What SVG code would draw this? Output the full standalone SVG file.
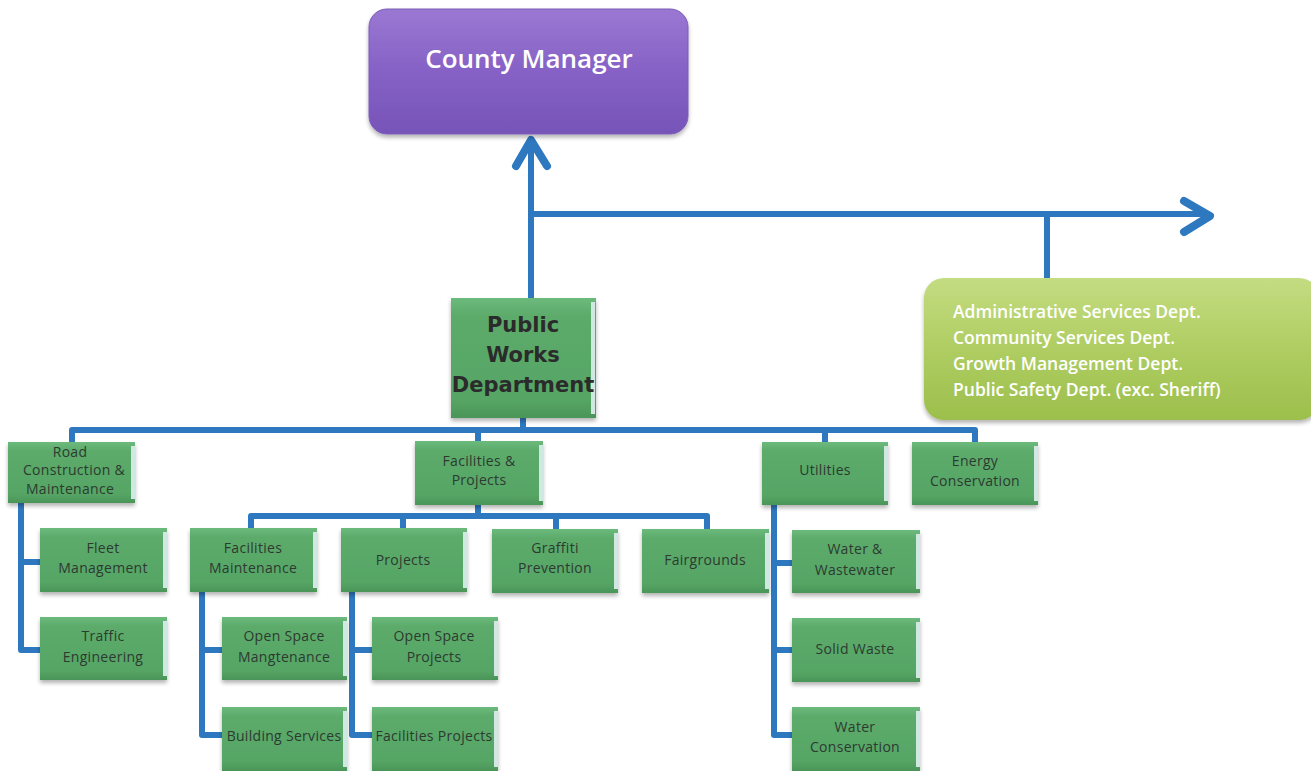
<svg xmlns="http://www.w3.org/2000/svg" width="1311" height="771" viewBox="0 0 1311 771">
  <defs>
    <linearGradient id="gPurple" x1="0" y1="0" x2="0" y2="1">
      <stop offset="0" stop-color="#9a78d2"/>
      <stop offset="0.5" stop-color="#8661c6"/>
      <stop offset="1" stop-color="#7654b8"/>
    </linearGradient>
    <linearGradient id="gLime" x1="0" y1="0" x2="0" y2="1">
      <stop offset="0" stop-color="#c4dc82"/>
      <stop offset="0.5" stop-color="#afcd62"/>
      <stop offset="1" stop-color="#9cbf4c"/>
    </linearGradient>
    <linearGradient id="gGreen" x1="0" y1="0" x2="0" y2="1">
      <stop offset="0" stop-color="#6cba7c"/>
      <stop offset="0.15" stop-color="#5cab6b"/>
      <stop offset="0.85" stop-color="#56a565"/>
      <stop offset="1" stop-color="#4a9558"/>
    </linearGradient>
    <filter id="shadow" x="-10%" y="-10%" width="120%" height="130%">
      <feGaussianBlur in="SourceAlpha" stdDeviation="2"/>
      <feOffset dx="0" dy="3" result="b"/>
      <feComponentTransfer><feFuncA type="linear" slope="0.3"/></feComponentTransfer>
      <feMerge><feMergeNode/><feMergeNode in="SourceGraphic"/></feMerge>
    </filter>
  </defs>
  <style>
    .wire { fill: none; stroke: #2e78c0; stroke-width: 6; stroke-linejoin: round; stroke-linecap: butt; }
    .head { fill: none; stroke: #2e78c0; stroke-width: 8; stroke-linejoin: round; stroke-linecap: round; }
    .box { fill: url(#gGreen); filter: url(#shadow); }
    .edge { fill: #cfe9e2; }
    .lbl { font-family: "Open Sans", "Liberation Sans", sans-serif; font-size: 14px; fill: #2d3a30; text-anchor: middle; letter-spacing: 0.3px; }
  </style>

  <rect width="1311" height="771" fill="#ffffff"/>

  <!-- links between the units -->
  <g id="connectors">
    <!-- Public Works up to the County Manager -->
    <path class="wire" d="M531 298 V142"/>
    <path class="head" d="M516 166 L531 140 L547 166"/>
    <!-- branch to the other departments -->
    <path class="wire" d="M531 214 H1207"/>
    <path class="head" d="M1184 201 L1210 216 L1184 232"/>
    <path class="wire" d="M1047 214 V279"/>
    <!-- main division bus -->
    <path class="wire" d="M523 418 V430"/>
    <path class="wire" d="M72 443 V430 H975 V443"/>
    <path class="wire" d="M478 430 V441"/>
    <path class="wire" d="M825 430 V443"/>
    <!-- road construction -->
    <path class="wire" d="M21 502 V650 H41"/>
    <path class="wire" d="M21 562 H41"/>
    <!-- facilities and projects -->
    <path class="wire" d="M478 505 V516"/>
    <path class="wire" d="M251 529 V516 H707 V529"/>
    <path class="wire" d="M403 516 V529"/>
    <path class="wire" d="M556 516 V529"/>
    <path class="wire" d="M202 592 V735 H223"/>
    <path class="wire" d="M202 650 H223"/>
    <path class="wire" d="M352 592 V735 H373"/>
    <path class="wire" d="M352 650 H373"/>
    <!-- utilities -->
    <path class="wire" d="M774 505 V735 H793"/>
    <path class="wire" d="M774 563 H793"/>
    <path class="wire" d="M774 650 H793"/>
  </g>

  <g id="county-manager">
    <rect x="369" y="9" width="319" height="125" rx="18" fill="url(#gPurple)" stroke="#7a5cb8" stroke-width="1" filter="url(#shadow)"/>
    <text x="529" y="68" font-family="'Open Sans', 'Liberation Sans', sans-serif" font-size="26" font-weight="600" fill="#ffffff" text-anchor="middle">County Manager</text>
  </g>

  <g id="other-departments">
    <rect x="924" y="278" width="395" height="142" rx="20" fill="url(#gLime)" filter="url(#shadow)"/>
    <g font-family="'Open Sans', 'Liberation Sans', sans-serif" font-size="17.5" font-weight="600" fill="#ffffff">
      <text x="953" y="318">Administrative Services Dept.</text>
      <text x="953" y="344">Community Services Dept.</text>
      <text x="953" y="370">Growth Management Dept.</text>
      <text x="953" y="396">Public Safety Dept. (exc. Sheriff)</text>
    </g>
  </g>

  <g id="public-works">
    <rect x="451" y="298" width="145" height="120" fill="url(#gGreen)" filter="url(#shadow)"/>
    <rect x="591" y="302" width="4" height="112" class="edge"/>
    <g font-family="'DejaVu Sans', Verdana, sans-serif" font-size="21" font-weight="bold" fill="#2b2b2b" text-anchor="middle">
      <text x="523" y="332">Public</text>
      <text x="523" y="362">Works</text>
      <text x="523" y="392">Department</text>
    </g>
  </g>

  <g id="road-construction">
    <rect class="box" x="8" y="442" width="127" height="61"/>
    <rect class="edge" x="131" y="446" width="4" height="53"/>
    <text class="lbl" x="70" y="457">Road</text>
    <text class="lbl" x="74" y="475">Construction  &amp;</text>
    <text class="lbl" x="70" y="494">Maintenance</text>
  </g>

  <g id="fleet-management">
    <rect class="box" x="40" y="528" width="127" height="64"/>
    <rect class="edge" x="163" y="532" width="4" height="56"/>
    <text class="lbl" x="103" y="553">Fleet</text>
    <text class="lbl" x="103" y="573">Management</text>
  </g>

  <g id="traffic-engineering">
    <rect class="box" x="40" y="617" width="127" height="63"/>
    <rect class="edge" x="163" y="621" width="4" height="55"/>
    <text class="lbl" x="103" y="641">Traffic</text>
    <text class="lbl" x="103" y="662">Engineering</text>
  </g>

  <g id="facilities-projects-div">
    <rect class="box" x="415" y="441" width="128" height="64"/>
    <rect class="edge" x="539" y="445" width="4" height="56"/>
    <text class="lbl" x="479" y="466">Facilities &amp;</text>
    <text class="lbl" x="479" y="485">Projects</text>
  </g>

  <g id="facilities-maintenance">
    <rect class="box" x="190" y="528" width="127" height="64"/>
    <rect class="edge" x="313" y="532" width="4" height="56"/>
    <text class="lbl" x="253" y="553">Facilities</text>
    <text class="lbl" x="253" y="573">Maintenance</text>
  </g>

  <g id="projects">
    <rect class="box" x="341" y="528" width="126" height="64"/>
    <rect class="edge" x="463" y="532" width="4" height="56"/>
    <text class="lbl" x="403" y="565">Projects</text>
  </g>

  <g id="graffiti-prevention">
    <rect class="box" x="492" y="529" width="126" height="64"/>
    <rect class="edge" x="614" y="533" width="4" height="56"/>
    <text class="lbl" x="555" y="553">Graffiti</text>
    <text class="lbl" x="555" y="573">Prevention</text>
  </g>

  <g id="fairgrounds">
    <rect class="box" x="642" y="529" width="127" height="64"/>
    <rect class="edge" x="765" y="533" width="4" height="56"/>
    <text class="lbl" x="705" y="565">Fairgrounds</text>
  </g>

  <g id="open-space-maintenance">
    <rect class="box" x="222" y="617" width="125" height="63"/>
    <rect class="edge" x="343" y="621" width="4" height="55"/>
    <text class="lbl" x="284" y="641">Open Space</text>
    <text class="lbl" x="284" y="662">Mangtenance</text>
  </g>

  <g id="building-services">
    <rect class="box" x="222" y="707" width="125" height="64"/>
    <rect class="edge" x="343" y="711" width="4" height="56"/>
    <text class="lbl" x="284" y="741">Building Services</text>
  </g>

  <g id="open-space-projects">
    <rect class="box" x="372" y="617" width="126" height="63"/>
    <rect class="edge" x="494" y="621" width="4" height="55"/>
    <text class="lbl" x="434" y="641">Open Space</text>
    <text class="lbl" x="434" y="662">Projects</text>
  </g>

  <g id="facilities-projects">
    <rect class="box" x="372" y="707" width="126" height="64"/>
    <rect class="edge" x="494" y="711" width="4" height="56"/>
    <text class="lbl" x="434" y="741">Facilities Projects</text>
  </g>

  <g id="utilities">
    <rect class="box" x="762" y="442" width="126" height="63"/>
    <rect class="edge" x="884" y="446" width="4" height="55"/>
    <text class="lbl" x="825" y="475">Utilities</text>
  </g>

  <g id="energy-conservation">
    <rect class="box" x="912" y="442" width="126" height="63"/>
    <rect class="edge" x="1034" y="446" width="4" height="55"/>
    <text class="lbl" x="975" y="466">Energy</text>
    <text class="lbl" x="975" y="486">Conservation</text>
  </g>

  <g id="water-wastewater">
    <rect class="box" x="792" y="530" width="128" height="63"/>
    <rect class="edge" x="916" y="534" width="4" height="55"/>
    <text class="lbl" x="855" y="554">Water &amp;</text>
    <text class="lbl" x="855" y="575">Wastewater</text>
  </g>

  <g id="solid-waste">
    <rect class="box" x="792" y="618" width="128" height="64"/>
    <rect class="edge" x="916" y="622" width="4" height="56"/>
    <text class="lbl" x="855" y="654">Solid Waste</text>
  </g>

  <g id="water-conservation">
    <rect class="box" x="792" y="707" width="128" height="64"/>
    <rect class="edge" x="916" y="711" width="4" height="56"/>
    <text class="lbl" x="855" y="732">Water</text>
    <text class="lbl" x="855" y="752">Conservation</text>
  </g>
</svg>
